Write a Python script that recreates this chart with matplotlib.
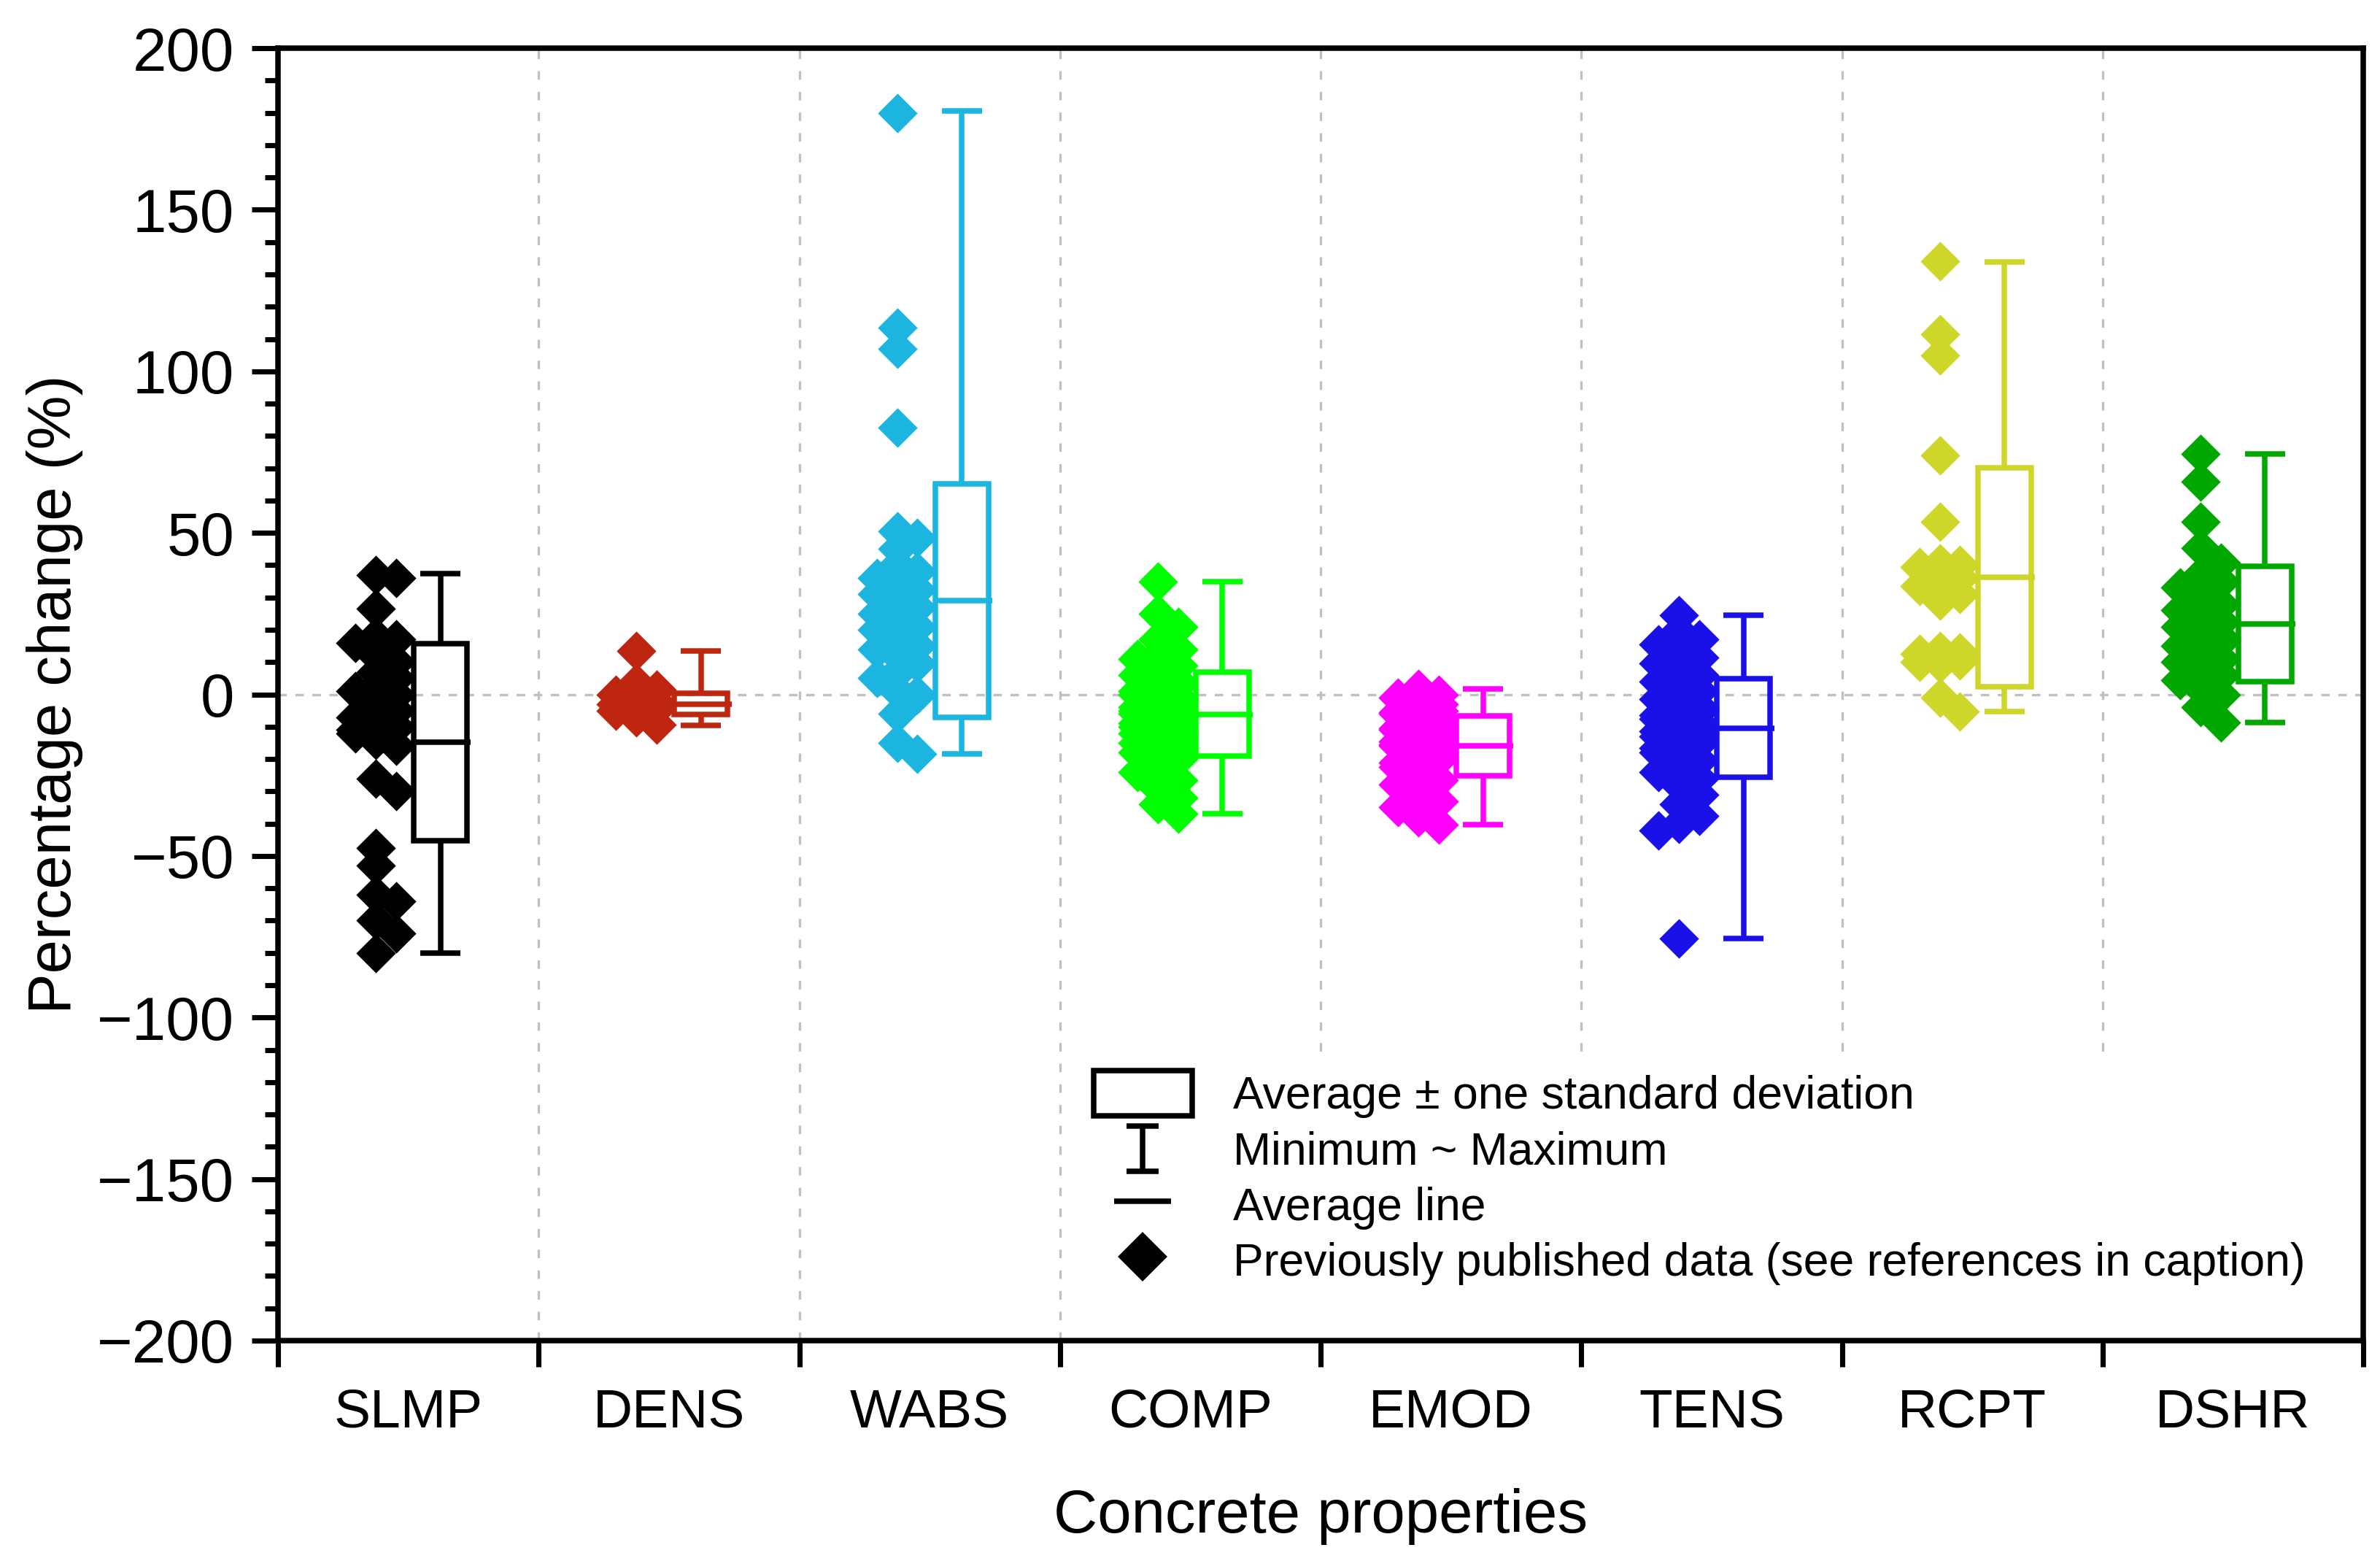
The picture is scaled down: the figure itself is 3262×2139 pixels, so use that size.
import numpy as np
import matplotlib
matplotlib.use('Agg')
from matplotlib import pyplot as plt
from matplotlib.lines import Line2D
from matplotlib.patches import Rectangle
from matplotlib.legend_handler import HandlerBase
from matplotlib.ticker import MultipleLocator

plt.rcParams['font.family'] = ['Liberation Sans', 'DejaVu Sans']

properties = ['SLMP', 'DENS', 'WABS', 'COMP', 'EMOD', 'TENS', 'RCPT', 'DSHR']
colors = ['#000000', '#BE2610', '#1CB5E0', '#00FF00', '#FF00FF', '#1A10E8', '#CDD629', '#00A800']

# previously published data, percentage change (%)
slmp = [37, 36, 26.5, 18, 17, 16, 12, 10, 7, 5, 2, 1, 0, -1, -3, -5, -7, -8, -9, -10, -10, -11,
        -12, -13, -14, -16, -26, -30, -47.5, -53, -62, -64, -70, -74, -80]
dens = [13.4, 3.5, 1.5, 0, -1, -2, -2.5, -3, -3.5, -4, -4.5, -5, -6, -7, -9.3]
wabs = [180, 113.5, 107, 82.5, 50.5, 48.5, 45, 40, 38, 36, 34, 32.5, 31, 30, 29, 27, 25, 23, 21,
        20, 18, 17, 15, 14, 12, 9.5, 7, 5, 1, 0, -6, -15, -18.5]
comp = [35, 25, 21, 17, 14, 12, 11, 9, 7, 6, 5, 4, 3, 2, 1, 0, 0, -1, -2, -2.5, -3, -4, -4, -5,
        -5, -6, -6, -7, -7, -8, -8, -9, -9, -10, -10, -11, -12, -12, -13, -14, -14, -15, -16,
        -17, -18, -19, -20, -22, -24, -26.5, -29, -32, -34, -37]
emod = [1.8, 0, -1, -2, -3, -4, -5, -5.5, -6, -7, -8, -8.5, -9, -10, -10.5, -11, -12, -12.5,
        -13, -13.5, -14, -14.5, -15, -15.5, -16, -17, -18, -18.5, -19, -20, -21, -22.5, -24,
        -26.5, -28, -30.5, -33, -35, -38, -40.3]
tens = [24.6, 19.5, 17, 15.5, 13, 11.5, 9.5, 7.5, 6, 4, 2.5, 1, -0.5, -1.5, -3, -4, -5, -6,
        -6.5, -7.5, -8, -9, -10, -10.5, -11, -11.5, -12, -13, -13.5, -14, -15, -15.5, -16.5,
        -18, -19, -20.5, -22, -24, -26, -28, -31, -34, -37.5, -40, -42.2, -75.6]
rcpt = [134, 111.5, 105, 74, 53.5, 40.5, 40, 39.5, 37, 36, 35, 33.5, 31, 30, 29, 13.5, 13, 12.5,
        11, 10.5, 10, 9.5, -1, -5.4]
dshr = [74.4, 65.8, 53.4, 45.3, 40.8, 37, 34.8, 33, 31, 30, 28, 26, 25, 24, 22.5, 21, 20, 19,
        17.5, 16.3, 15, 14, 12.5, 11, 10, 8.8, 7, 6, 4.3, 3, 2, 0, -4, -8.6]
published = [slmp, dens, wabs, comp, emod, tens, rcpt, dshr]

# summary statistics
average = np.array([-14.7, -2.95, 29.05, -6.1, -15.95, -10.4, 36.25, 21.8])
std_dev = np.array([30.5, 3.25, 36.15, 13.0, 9.25, 15.3, 33.95, 17.9])
minimum = np.array([-80, -9.7, -18.5, -37, -40.4, -75.6, -5.3, -8.7])
maximum = np.array([37.3, 13.4, 180.6, 34.9, 1.8, 24.6, 133.8, 74.4])


def swarm_offsets(values, step=0.026, max_steps=3, dy_thr=5.0, dx_thr=0.055):
    """Deterministic beeswarm-like horizontal offsets."""
    candidates = [0.0]
    for k in range(1, max_steps + 1):
        candidates += [k * step, -k * step]
    placed = []
    for v in values:
        best, best_hits = 0.0, None
        for c in candidates:
            hits = sum(1 for pv, po in placed if abs(pv - v) < dy_thr and abs(po - c) < dx_thr)
            if best_hits is None or hits < best_hits:
                best, best_hits = c, hits
            if hits == 0:
                break
        placed.append((v, best))
    return np.array([p[1] for p in placed])


class MinMaxProxy(Line2D):
    pass


class HandlerIBeam(HandlerBase):
    def create_artists(self, legend, orig_handle, xdescent, ydescent, width, height, fontsize, trans):
        cx = width / 2 - xdescent
        y0 = -ydescent
        y1 = height - ydescent
        cap = 0.16 * width
        kw = dict(color=orig_handle.get_color(), lw=orig_handle.get_linewidth(),
                  solid_capstyle='butt', transform=trans)
        return [Line2D([cx, cx], [y0, y1], **kw),
                Line2D([cx - cap, cx + cap], [y1, y1], **kw),
                Line2D([cx - cap, cx + cap], [y0, y0], **kw)]


fig = plt.figure(figsize=(3262 / 300, 2139 / 300), dpi=300)
ax = fig.add_axes([0.1168, 0.1412, 0.8762, 0.8279])

lw = 1.8
centers = np.arange(len(properties)) + 0.5
box_x = centers + 0.123
box_w = 0.204
cap_w = 0.077

# grid lines
for k in range(1, len(properties)):
    ax.axvline(k, color='#C0C0C0', lw=0.8, dashes=(3.5, 5), zorder=0.5)
ax.axhline(0, color='#C0C0C0', lw=0.8, dashes=(3.5, 3.5), zorder=0.5)

# scatter of published data
for i, vals in enumerate(published):
    vals = np.array(vals, dtype=float)
    x = centers[i] - 0.125 + swarm_offsets(vals)
    ax.scatter(x, vals, marker='D', s=85, color=colors[i], linewidths=0, zorder=2)

# boxes: average +/- one standard deviation
ax.bar(box_x, 2 * std_dev, bottom=average - std_dev, width=box_w, facecolor='none',
       edgecolor=colors, linewidth=lw, zorder=3)
ax.vlines(box_x, average + std_dev, maximum, colors=colors, lw=lw, zorder=3)
ax.vlines(box_x, minimum, average - std_dev, colors=colors, lw=lw, zorder=3)
ax.hlines(maximum, box_x - cap_w, box_x + cap_w, colors=colors, lw=lw, zorder=3)
ax.hlines(minimum, box_x - cap_w, box_x + cap_w, colors=colors, lw=lw, zorder=3)
ax.hlines(average, box_x - box_w / 2 - 0.008, box_x + box_w / 2 + 0.015, colors=colors, lw=lw, zorder=3)

# white area behind legend
ax.add_patch(Rectangle((0.378, 0), 0.622, 0.217, transform=ax.transAxes, facecolor='white',
                       edgecolor='none', zorder=1))

ax.set_xlim(0, 8)
ax.set_ylim(-200, 200)
ax.set_xticks(range(9))
ax.set_xticklabels([])
ax.set_xticks(centers, minor=True)
ax.set_xticklabels(properties, minor=True)
ax.tick_params(axis='x', which='major', length=8.6, width=1.7, direction='out')
ax.tick_params(axis='x', which='minor', length=0, pad=15.5, labelsize=18)
ax.yaxis.set_major_locator(MultipleLocator(50))
ax.yaxis.set_minor_locator(MultipleLocator(10))
ax.tick_params(axis='y', which='major', length=8.6, width=1.7, labelsize=20, pad=5.8)
ax.tick_params(axis='y', which='minor', length=4.3, width=1.7)
for sp in ax.spines.values():
    sp.set_linewidth(lw)

ax.set_ylabel('Percentage change (%)', fontsize=20)
ax.yaxis.set_label_coords(-0.0934, 0.5)
ax.set_xlabel('Concrete properties', fontsize=20)
ax.xaxis.set_label_coords(0.5, -0.114)

handles = [Rectangle((0, 0), 1, 1, facecolor='white', edgecolor='black', lw=lw),
           MinMaxProxy([], [], color='black', lw=lw),
           Line2D([], [], color='black', marker='_', ms=18.5, mew=lw, ls='none'),
           Line2D([], [], color='black', marker='D', ms=10.5, ls='none')]
labels = ['Average \u00b1 one standard deviation', 'Minimum ~ Maximum', 'Average line',
          'Previously published data (see references in caption)']
ax.legend(handles, labels, handler_map={MinMaxProxy: HandlerIBeam()}, loc='upper left',
          bbox_to_anchor=(0.391, 0.209), frameon=False, fontsize=15, handlelength=2.16,
          handleheight=1.15, handletextpad=0.9, labelspacing=0.18, borderpad=0,
          borderaxespad=0, numpoints=1)

fig.savefig('out.png', dpi=300)
